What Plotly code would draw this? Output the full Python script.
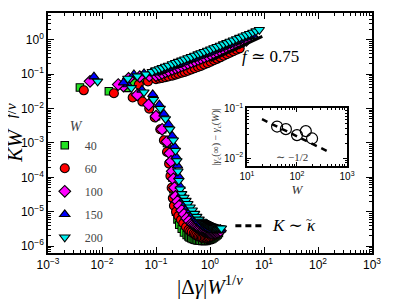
import plotly.graph_objects as go

# ---------------- data ----------------
# W = 40 (green squares)
w40_up_x = [0.0039, 0.0134, 0.037, 0.06, 0.10, 0.115, 0.13, 0.15, 0.17, 0.2, 0.23, 0.26, 0.3, 0.34, 0.39, 0.45,
            0.52, 0.6, 0.68, 0.78, 0.9, 1.03, 1.18, 1.35, 1.55, 1.78, 2.05, 2.35, 2.7]
w40_up_y = [0.041, 0.032, 0.057, 0.068, 0.076, 0.082, 0.089, 0.097, 0.104, 0.115, 0.125, 0.135, 0.147, 0.158, 0.172,
            0.187, 0.204, 0.222, 0.240, 0.260, 0.283, 0.307, 0.335, 0.364, 0.397, 0.434, 0.474, 0.517, 0.564]
w40_lo_x = [0.03, 0.05, 0.075, 0.1, 0.13, 0.16, 0.18, 0.19, 0.2, 0.21, 0.22, 0.235, 0.25, 0.27, 0.3, 0.33,
            0.37, 0.4, 0.42, 0.45, 0.48, 0.52, 0.55, 0.59, 0.63, 0.67, 0.72, 0.77, 0.82, 0.87, 0.93, 0.99, 1.05,
            1.11, 1.18, 1.25, 1.32, 1.39, 1.46]
w40_lo_y = [0.04, 0.022, 0.012, 0.006, 0.0025, 0.001, 5.5e-4, 2.5e-4, 1e-4, 4.5e-5, 2e-5, 1e-5, 6e-6, 4.2e-6, 3.2e-6,
            2.5e-6, 2.1e-6, 1.92e-6, 1.8e-6, 1.7e-6, 1.62e-6, 1.55e-6, 1.5e-6, 1.47e-6, 1.45e-6, 1.43e-6, 1.42e-6,
            1.42e-6, 1.42e-6, 1.45e-6, 1.48e-6, 1.53e-6, 1.6e-6, 1.68e-6, 1.8e-6, 1.92e-6, 2.05e-6, 2.2e-6, 2.4e-6]

# W = 60 (red circles)
w60_up_x = [0.0046, 0.0166, 0.048, 0.071, 0.10, 0.115, 0.13, 0.15, 0.17, 0.2, 0.23, 0.26, 0.3, 0.34, 0.39, 0.45,
            0.52, 0.6, 0.68, 0.78, 0.9, 1.03, 1.18, 1.35, 1.55, 1.78, 2.05, 2.35, 2.7, 3.1, 3.55]
w60_up_y = [0.034, 0.028, 0.05, 0.062, 0.072, 0.075, 0.078, 0.082, 0.086, 0.091, 0.097, 0.103, 0.110, 0.117, 0.126,
            0.137, 0.149, 0.162, 0.175, 0.191, 0.210, 0.231, 0.254, 0.280, 0.310, 0.343, 0.380, 0.420, 0.465,
            0.515, 0.565]
w60_lo_x = [0.037, 0.056, 0.075, 0.095, 0.12, 0.14, 0.16, 0.175, 0.185, 0.195, 0.205, 0.215, 0.235, 0.26, 0.29,
            0.32, 0.36, 0.4, 0.43, 0.46, 0.5, 0.53, 0.56, 0.6, 0.63, 0.67, 0.71, 0.75, 0.8, 0.85, 0.9, 0.95, 1.0,
            1.06, 1.12, 1.18, 1.25, 1.32, 1.38, 1.45, 1.52]
w60_lo_y = [0.021, 0.016, 0.01, 0.0055, 0.0025, 0.0012, 5.5e-4, 2.5e-4, 1.1e-4, 5e-5, 2.5e-5, 1.5e-5, 1e-5, 7.5e-6,
            5.8e-6, 4.6e-6, 3.6e-6, 3.0e-6, 2.75e-6, 2.55e-6, 2.35e-6, 2.2e-6, 2.05e-6, 1.95e-6, 1.88e-6, 1.81e-6,
            1.76e-6, 1.73e-6, 1.72e-6, 1.72e-6, 1.74e-6, 1.78e-6, 1.83e-6, 1.9e-6, 1.98e-6, 2.07e-6, 2.18e-6,
            2.3e-6, 2.42e-6, 2.57e-6, 2.75e-6]

# W = 100 (magenta diamonds)
w100_up_x = [0.006, 0.020, 0.031, 0.05, 0.075, 0.10, 0.115, 0.13, 0.15, 0.17, 0.2, 0.23, 0.26, 0.3, 0.34, 0.39,
             0.45, 0.52, 0.6, 0.68, 0.78, 0.9, 1.03, 1.18, 1.35, 1.55, 1.78, 2.05, 2.35, 2.7, 3.1, 3.55, 4.1, 4.7]
w100_up_y = [0.062, 0.05, 0.075, 0.085, 0.09, 0.092, 0.099, 0.107, 0.117, 0.126, 0.139, 0.151, 0.162, 0.177, 0.190,
             0.207, 0.225, 0.246, 0.268, 0.289, 0.314, 0.342, 0.371, 0.404, 0.440, 0.480, 0.524, 0.572, 0.624,
             0.680, 0.742, 0.812, 0.889, 0.966]
w100_lo_x = [0.025, 0.045, 0.073, 0.1, 0.13, 0.16, 0.18, 0.19, 0.2, 0.21, 0.22, 0.23, 0.25, 0.27, 0.3, 0.33, 0.37,
             0.41, 0.46, 0.49, 0.52, 0.55, 0.58, 0.62, 0.65, 0.69, 0.73, 0.77, 0.82, 0.87, 0.92, 0.97, 1.03, 1.09,
             1.15, 1.21, 1.28, 1.35, 1.42, 1.5, 1.56]
w100_lo_y = [0.045, 0.025, 0.013, 0.006, 0.0025, 0.0011, 5e-4, 2.9e-4, 1.5e-4, 9e-5, 5e-5, 2.8e-5, 2e-5, 1.5e-5,
             1.1e-5, 8.5e-6, 6.5e-6, 5.4e-6, 4.6e-6, 4.3e-6, 4.0e-6, 3.8e-6, 3.6e-6, 3.4e-6, 3.2e-6, 3.05e-6,
             2.9e-6, 2.8e-6, 2.7e-6, 2.62e-6, 2.55e-6, 2.5e-6, 2.46e-6, 2.45e-6, 2.45e-6, 2.47e-6, 2.5e-6,
             2.55e-6, 2.62e-6, 2.72e-6, 2.82e-6]

# W = 150 (blue triangles up)
w150_up_x = [0.0071, 0.025, 0.039, 0.06, 0.08, 0.10, 0.115, 0.13, 0.15, 0.17, 0.2, 0.23, 0.26, 0.3, 0.34, 0.39,
             0.45, 0.52, 0.6, 0.68, 0.78, 0.9, 1.03, 1.18, 1.35, 1.55, 1.78, 2.05, 2.35, 2.7, 3.1, 3.55, 4.1, 4.7,
             5.4, 6.2]
w150_up_y = [0.085, 0.057, 0.098, 0.105, 0.11, 0.111, 0.121, 0.130, 0.142, 0.153, 0.168, 0.183, 0.197, 0.215, 0.231,
             0.252, 0.274, 0.298, 0.326, 0.351, 0.381, 0.415, 0.451, 0.490, 0.534, 0.582, 0.636, 0.694, 0.757,
             0.826, 0.901, 0.986, 1.08, 1.17, 1.28, 1.39]
w150_lo_x = [0.03, 0.055, 0.087, 0.115, 0.14, 0.17, 0.2, 0.22, 0.235, 0.25, 0.265, 0.28, 0.3, 0.33, 0.36, 0.4,
             0.44, 0.49, 0.54, 0.57, 0.6, 0.63, 0.67, 0.7, 0.74, 0.78, 0.82, 0.86, 0.9, 0.95, 1.0, 1.05, 1.1, 1.16,
             1.22, 1.28, 1.35, 1.42, 1.5, 1.58]
w150_lo_y = [0.05, 0.035, 0.026, 0.013, 0.007, 0.0035, 0.0016, 8e-4, 4e-4, 2.2e-4, 1.05e-4, 5.5e-5, 3.3e-5, 2.4e-5,
             1.8e-5, 1.4e-5, 1.1e-5, 8.7e-6, 7.0e-6, 6.3e-6, 5.8e-6, 5.3e-6, 4.9e-6, 4.55e-6, 4.25e-6, 3.95e-6,
             3.75e-6, 3.55e-6, 3.4e-6, 3.27e-6, 3.15e-6, 3.06e-6, 3.0e-6, 2.94e-6, 2.9e-6, 2.87e-6, 2.86e-6,
             2.88e-6, 2.92e-6, 3.0e-6]

# W = 200 (cyan triangles down)
w200_up_x = [0.0083, 0.03, 0.045, 0.065, 0.085, 0.10, 0.115, 0.13, 0.15, 0.17, 0.2, 0.23, 0.26, 0.3, 0.34, 0.39,
             0.45, 0.52, 0.6, 0.68, 0.78, 0.9, 1.03, 1.18, 1.35, 1.55, 1.78, 2.05, 2.35, 2.7, 3.1, 3.55, 4.1, 4.7,
             5.4, 6.2, 7.1, 8.2]
w200_up_y = [0.062, 0.075, 0.088, 0.10, 0.118, 0.131, 0.142, 0.153, 0.167, 0.180, 0.198, 0.215, 0.232, 0.253, 0.272,
             0.296, 0.322, 0.351, 0.383, 0.413, 0.448, 0.488, 0.530, 0.577, 0.628, 0.685, 0.748, 0.817, 0.891,
             0.972, 1.06, 1.16, 1.27, 1.38, 1.50, 1.64, 1.79, 1.96]
w200_lo_x = [0.035, 0.06, 0.09, 0.12, 0.15, 0.18, 0.21, 0.23, 0.245, 0.255, 0.265, 0.28, 0.30, 0.33, 0.36, 0.39,
             0.43, 0.47, 0.52, 0.57, 0.63, 0.7, 0.73, 0.76, 0.8, 0.83, 0.87, 0.91, 0.95, 1.0, 1.04, 1.09, 1.14,
             1.19, 1.25, 1.3, 1.36, 1.42, 1.49, 1.56, 1.63]
w200_lo_y = [0.04, 0.03, 0.018, 0.01, 0.005, 0.0025, 0.0012, 6e-4, 3e-4, 1.5e-4, 8e-5, 4.5e-5, 3.3e-5, 2.6e-5, 2.1e-5,
             1.7e-5, 1.35e-5, 1.1e-5, 8.8e-6, 7.2e-6, 6e-6, 5.2e-6, 5.0e-6, 4.8e-6, 4.6e-6, 4.45e-6, 4.3e-6,
             4.15e-6, 4.0e-6, 3.9e-6, 3.8e-6, 3.7e-6, 3.62e-6, 3.55e-6, 3.48e-6, 3.42e-6, 3.38e-6, 3.35e-6,
             3.32e-6, 3.3e-6, 3.3e-6]

# guide lines in the main panel
f_line_x = [1.02, 9.3]
f_line_y = [0.25, 1.26]
kappa_line_x = [2.95, 9.7]
kappa_line_y = [3.9e-6, 3.9e-6]

# inset data
inset_W = [40, 60, 100, 150, 200]
inset_gap = [0.0433, 0.0384, 0.0291, 0.035, 0.0249]
inset_fit_W = [20, 420]
inset_fit_gap = [0.061, 0.0135]

# tick labels
main_x_tickvals = [1e-3, 1e-2, 1e-1, 1e0, 1e1, 1e2, 1e3]
main_x_ticktext = ["10<sup>−3</sup>", "10<sup>−2</sup>", "10<sup>−1</sup>", "10<sup>0</sup>",
                   "10<sup>1</sup>", "10<sup>2</sup>", "10<sup>3</sup>"]
main_y_tickvals = [1e-6, 1e-5, 1e-4, 1e-3, 1e-2, 1e-1, 1e0]
main_y_ticktext = ["10<sup>−6</sup>", "10<sup>−5</sup>", "10<sup>−4</sup>", "10<sup>−3</sup>",
                   "10<sup>−2</sup>", "10<sup>−1</sup>", "10<sup>0</sup>"]
inset_x_tickvals = [1e1, 1e2, 1e3]
inset_x_ticktext = ["10<sup>1</sup>", "10<sup>2</sup>", "10<sup>3</sup>"]
inset_y_tickvals = [1e-2, 1e-1]
inset_y_ticktext = ["10<sup>−2</sup>", "10<sup>−1</sup>"]

series = [
    ("40", w40_up_x, w40_up_y, w40_lo_x, w40_lo_y, "square", "#22e022", 7.5),
    ("60", w60_up_x, w60_up_y, w60_lo_x, w60_lo_y, "circle", "#ff0000", 9),
    ("100", w100_up_x, w100_up_y, w100_lo_x, w100_lo_y, "diamond", "#ff00ff", 9),
    ("150", w150_up_x, w150_up_y, w150_lo_x, w150_lo_y, "triangle-up", "#0000ff", 9),
    ("200", w200_up_x, w200_up_y, w200_lo_x, w200_lo_y, "triangle-down", "#00f0f0", 9),
]

fig = go.Figure()
for name, ux, uy, lx, ly, sym, col, sz in series:
    fig.add_trace(go.Scatter(
        x=lx + ux, y=ly + uy, mode="markers", name=name, legendgroup=name,
        marker=dict(symbol=sym, color=col, size=sz, line=dict(color="black", width=1.1)),
    ))

fig.add_trace(go.Scatter(x=f_line_x, y=f_line_y, mode="lines", showlegend=False,
                         line=dict(color="black", width=3)))
fig.add_trace(go.Scatter(x=kappa_line_x, y=kappa_line_y, mode="lines", showlegend=False,
                         line=dict(color="black", width=3, dash="6px,4px")))

# inset
fig.add_trace(go.Scatter(x=inset_fit_W, y=inset_fit_gap, mode="lines", showlegend=False,
                         xaxis="x2", yaxis="y2", line=dict(color="black", width=2.5, dash="6px,5px")))
fig.add_trace(go.Scatter(x=inset_W, y=inset_gap, mode="markers", showlegend=False, xaxis="x2", yaxis="y2",
                         marker=dict(symbol="circle-open", size=11, color="black", line=dict(width=1.2))))

sans = "Liberation Sans, Arial, sans-serif"
serif = "Liberation Serif, DejaVu Serif, serif"
tickfont = dict(family=sans, size=12, color="black")

minor_main = dict(ticks="inside", ticklen=3, tickwidth=0.8, tickcolor="black", dtick="D1", showgrid=False)
minor_inset = dict(ticks="inside", ticklen=2, tickwidth=0.7, tickcolor="black", dtick="D1", showgrid=False)
axis_common = dict(type="log", showgrid=False, zeroline=False, showline=True, linecolor="black", linewidth=1.5,
                   mirror="allticks", ticks="inside", ticklen=6, tickwidth=1.2, tickcolor="black",
                   tickmode="array", automargin=False)

# the page body adds an 8 px offset, so the figure is 8 px smaller and the margins compensate
fig.update_layout(
    width=407, height=296,
    margin=dict(l=40, r=43, t=5, b=51),
    paper_bgcolor="white", plot_bgcolor="white",
    xaxis=dict(axis_common, range=[-3, 3], tickvals=main_x_tickvals, ticktext=main_x_ticktext,
               tickfont=tickfont, minor=minor_main),
    yaxis=dict(axis_common, range=[-6.2, 0.78], tickvals=main_y_tickvals, ticktext=main_y_ticktext,
               tickfont=tickfont, minor=minor_main),
    xaxis2=dict(axis_common, range=[1, 3], domain=[0.614, 0.923], anchor="y2",
                tickvals=inset_x_tickvals, ticktext=inset_x_ticktext, ticklen=4, minor=minor_inset,
                tickfont=dict(family=sans, size=10, color="black"),
                title=dict(text="<i>W</i>", font=dict(family=serif, size=13, color="#333"), standoff=0)),
    yaxis2=dict(axis_common, range=[-2.16, -0.99], domain=[0.3625, 0.604], anchor="x2",
                tickvals=inset_y_tickvals, ticktext=inset_y_ticktext, ticklen=4, minor=minor_inset,
                tickfont=dict(family=sans, size=10, color="black"),
                title=dict(text="|<i>γ</i><sub>c</sub>(∞) − <i>γ</i><sub>c</sub>(<i>W</i>)|",
                           font=dict(family=serif, size=10, color="#333"), standoff=3)),
    legend=dict(x=-0.01, y=0.585, xanchor="left", yanchor="top", bgcolor="rgba(0,0,0,0)",
                font=dict(family=serif, size=12, color="#444"), tracegroupgap=4,
                title=dict(text="<i>W</i>", side="top center", font=dict(family=serif, size=14, color="#444"))),
    annotations=[
        dict(x=0.5, y=-0.135, xref="paper", yref="paper", text="|Δ<i>γ</i>|<i>W</i><sup>1/<i>ν</i></sup>",
             showarrow=False, xanchor="center", yanchor="middle",
             font=dict(family=serif, size=21, color="black")),
        # y-axis title: "KW" with its superscript "f/ν" set as a second, smaller text
        dict(x=-0.103, y=0.45, xref="paper", yref="paper", text="<i>KW</i>",
             showarrow=False, textangle=-90, xanchor="center", yanchor="middle",
             font=dict(family=serif, size=21, color="black")),
        dict(x=-0.113, y=0.592, xref="paper", yref="paper", text="<i>f</i>/<i>ν</i>",
             showarrow=False, textangle=-90, xanchor="center", yanchor="middle",
             font=dict(family=serif, size=15, color="black")),
        dict(x=1.117, y=-0.483, xref="x", yref="y", text="<i>f</i> ≃ 0.75", showarrow=False,
             font=dict(family=serif, size=17, color="black")),
        dict(x=1.12, y=-5.41, xref="x", yref="y", text="<i>K</i> ∼ <i>κ</i>", showarrow=False,
             xanchor="left", font=dict(family=serif, size=17, color="black")),
        dict(x=1.83, y=-5.2, xref="x", yref="y", text="~", showarrow=False,
             font=dict(family=serif, size=11, color="black")),
        dict(x=1.9, y=-1.97, xref="x2", yref="y2", text="∼ −1/2", showarrow=False,
             font=dict(family=serif, size=11, color="#333")),
    ],
)

fig.write_html("out.html")
